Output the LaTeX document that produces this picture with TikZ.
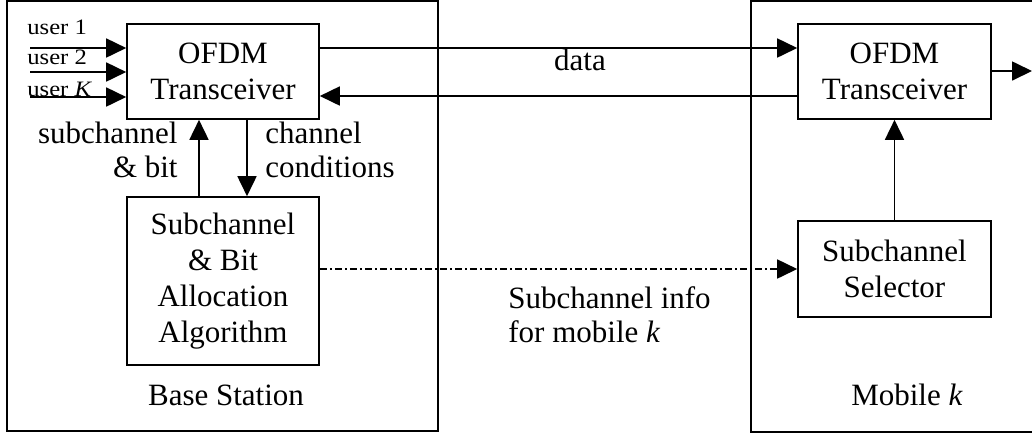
\documentclass[tikz,border=0pt]{standalone}
\usepackage{fontspec}
\usepackage{graphicx}
\setmainfont{Liberation Serif}
\usetikzlibrary{arrows.meta,calc}

\tikzset{
  blk/.style={draw, line width=0.8pt, rectangle, inner sep=0pt, align=center,
    font=\fontsize{15.5}{18}\selectfont},
  area/.style={draw, line width=0.8pt},
  lbl/.style={inner sep=0pt, font=\fontsize{15.5}{17}\selectfont},
  ulbl/.style={inner sep=0pt, font=\fontsize{11}{12}\selectfont},
  link/.style={line width=0.85pt, -{Triangle[length=10pt, width=9.5pt]}},
  sidelink/.style={link, dash pattern=on 3.5pt off 1.5pt on 1pt off 1.5pt},
}

\begin{document}
\begin{tikzpicture}[x=0.5pt, y=-0.5pt]
  \useasboundingbox (0,0) rectangle (1032,436);

  % enclosing areas
  \draw[area] (7,1) rectangle (438,431);
  \draw[area] (751,1) rectangle (1045,432);

  % base station blocks
  \node[blk, minimum width=96pt, minimum height=47.5pt] (bofdm) at (223,71.5)
    {OFDM\\Transceiver};
  \node[blk, minimum width=96pt, minimum height=84pt] (alloc) at (223,281)
    {Subchannel\\\& Bit\\Allocation\\Algorithm};

  % mobile blocks
  \node[blk, minimum width=96.5pt, minimum height=47.5pt] (mofdm) at (894.5,71.5)
    {OFDM\\Transceiver};
  \node[blk, minimum width=96.5pt, minimum height=48pt] (sel) at (894.5,269)
    {Subchannel\\Selector};

  % user inputs
  \coordinate (u1) at (30,48);
  \coordinate (u2) at (30,72);
  \coordinate (uk) at (30,97);
  \node[ulbl, anchor=base west] (t1) at (27,34) {\scalebox{1.12}[1]{user 1}};
  \node[ulbl, anchor=base west] (t2) at (27,64) {\scalebox{1.12}[1]{user 2}};
  \node[ulbl, anchor=base west] (tk) at (27,96) {\scalebox{1.12}[1]{user \textit{K}}};
  \draw[link] (u1) -- (u1 -| bofdm.west);
  \draw[link] (u2) -- (u2 -| bofdm.west);
  \draw[link] (uk) -- (uk -| bofdm.west);

  % downlink data and return path
  \draw[link] ($(bofdm.east)+(0,-23.5)$) -- ($(mofdm.west)+(0,-23.5)$);
  \draw[link] ($(mofdm.west)+(0,24.5)$) -- ($(bofdm.east)+(0,24.5)$);
  \node[lbl, anchor=base] (data) at (580,70) {data};

  % mobile output
  \coordinate (out) at (1032,71);
  \draw[link] (mofdm.east |- out) -- (out);

  % base station internal links
  \draw[link] ($(alloc.north)+(-24,0)$) -- ($(bofdm.south)+(-24,0)$);
  \draw[link] ($(bofdm.south)+(24,0)$) -- ($(alloc.north)+(24,0)$);
  \node[lbl, anchor=base east, align=right] (sbl) at (178,177) {subchannel\\\& bit};
  \node[lbl, anchor=base west, align=left] (ccl) at (265,177) {channel\\conditions};

  % mobile internal link
  \draw[link] (sel.north) -- (mofdm.south);

  % side information to the mobile
  \draw[sidelink] (alloc.east |- sel.west) -- (sel.west);
  \node[lbl, anchor=base west, align=left] (info) at (508,342)
    {Subchannel info\\for mobile \textit{k}};

  % area captions
  \node[lbl, anchor=base] (bs) at (226,405) {Base Station};
  \node[lbl, anchor=base] (mk) at (907,405) {Mobile \textit{k}};
\end{tikzpicture}
\end{document}
